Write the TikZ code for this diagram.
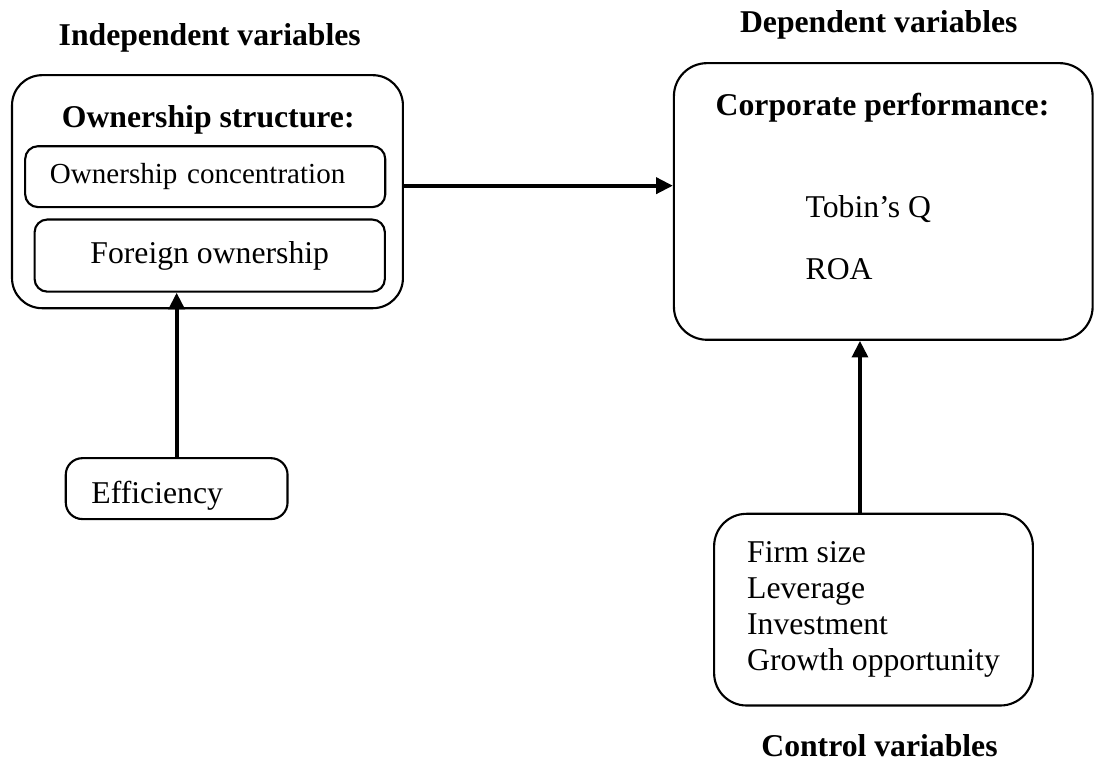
\documentclass[tikz,border=0pt]{standalone}
\usepackage{fontspec}
\setmainfont{Liberation Serif}
\usetikzlibrary{arrows.meta}

\begin{document}
\fontsize{12}{13.6}\selectfont
\begin{tikzpicture}[
  rbox/.style={draw, line width=0.8pt, rounded corners=#1, inner sep=0pt},
  rbox/.default=0.2cm,
  arr/.style={line width=1.4pt, -{Triangle[length=6.3pt,width=6pt]}},
  head/.style={font=\bfseries, anchor=base},
  txt/.style={anchor=base west, inner xsep=0pt}
]
  \useasboundingbox (0,0) rectangle (14.62,-10.16);

  % Variables independientes
  \node[head] (indep) at (2.79,-0.60) {Independent variables};
  \node[rbox=0.4cm, minimum width=5.20cm, minimum height=3.10cm] (own) at (2.76,-2.55) {};
  \node[head] (ownt) at (2.77,-1.69) {Ownership structure:};
  \node[rbox=0.17cm, text width=4.13cm, inner xsep=0.33cm, minimum height=0.81cm,
        align=left, font=\fontsize{11}{13}\selectfont] (conc) at (2.73,-2.35) {Ownership concentration};
  \node[rbox=0.17cm, minimum width=4.66cm, minimum height=0.96cm] (fown) at (2.79,-3.40) {Foreign ownership};

  % Eficiencia
  \node[rbox=0.22cm, minimum width=2.95cm, minimum height=0.81cm] (eff) at (2.35,-6.50) {};
  \node[txt] (efft) at (1.21,-6.70) {Efficiency};

  % Variables dependientes
  \node[head] (dep) at (11.69,-0.43) {Dependent variables};
  \node[rbox=0.44cm, minimum width=5.57cm, minimum height=3.68cm] (perf) at (11.75,-2.68) {};
  \node[head] (perft) at (11.74,-1.54) {Corporate performance:};
  \node[txt] (tobin) at (10.71,-2.89) {Tobin's Q};
  \node[txt] (roa) at (10.71,-3.72) {ROA};

  % Variables de control
  \node[rbox=0.43cm, minimum width=4.24cm, minimum height=2.55cm, align=left] (ctrl) at (11.62,-8.11)
    {Firm size\\Leverage\\Investment\\Growth opportunity};
  \node[head] (ctrlt) at (11.70,-10.07) {Control variables};

  % Flechas
  \coordinate (a) at ([yshift=0.08cm]own.east);
  \draw[arr] (a) -- (a -| perf.west);
  \draw[arr] (eff) -- (eff |- fown.south);
  \coordinate (c) at ([xshift=-0.18cm]ctrl.north);
  \draw[arr] (c) -- (c |- perf.south);

\end{tikzpicture}
\end{document}
